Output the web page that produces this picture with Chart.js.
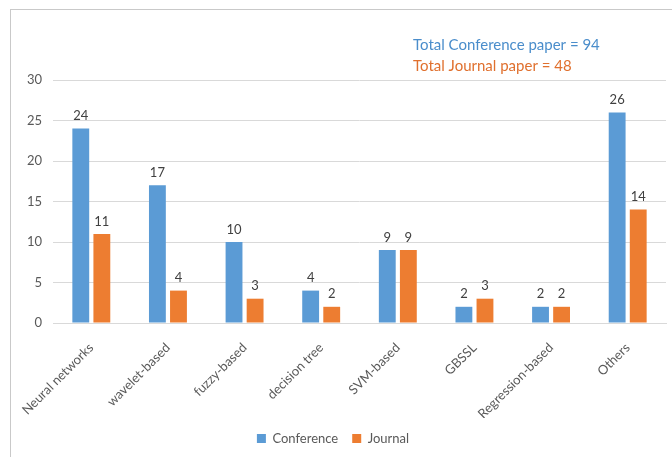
<!DOCTYPE html>
<html>
<head>
<meta charset="utf-8">
<script src="https://cdn.jsdelivr.net/npm/chart.js@4.4.0/dist/chart.umd.min.js"></script>
<style>
  html, body { margin: 0; padding: 0; background: #fff; }
  #wrap { position: relative; width: 672px; height: 457px; }
  #frame { position: absolute; left: 10px; top: 9px; right: 0; bottom: 0;
           border-left: 1px solid #c9c9c9; border-top: 1px solid #c9c9c9; pointer-events: none; }
  canvas { position: absolute; left: 0; top: 0; }
</style>
</head>
<body>
<div id="wrap">
  <canvas id="c" width="672" height="457"></canvas>
  <div id="frame"></div>
</div>
<script>
const categories = ["Neural networks", "wavelet-based", "fuzzy-based", "decision tree", "SVM-based", "GBSSL", "Regression-based", "Others"];
const conference = [24, 17, 10, 4, 9, 2, 2, 26];
const journal = [11, 4, 3, 2, 9, 3, 2, 14];
const yTicks = [0, 5, 10, 15, 20, 25, 30];
const noteLines = ["Total Conference paper = 94", "Total Journal paper = 48"];

const FONT = "Lato, 'Open Sans', sans-serif";

const valueLabels = {
  id: 'valueLabels',
  afterDatasetsDraw(chart) {
    const ctx = chart.ctx;
    ctx.save();
    ctx.font = "13px " + FONT;
    ctx.fillStyle = "#404040";
    ctx.textAlign = "center";
    ctx.textBaseline = "bottom";
    chart.data.datasets.forEach((ds, i) => {
      chart.getDatasetMeta(i).data.forEach((bar, j) => {
        ctx.fillText(String(ds.data[j]), bar.x, bar.y - 6);
      });
    });
    ctx.restore();
  }
};

const note = {
  id: 'note',
  afterDraw(chart) {
    const ctx = chart.ctx;
    ctx.save();
    ctx.font = "15px " + FONT;
    ctx.textAlign = "left";
    ctx.textBaseline = "middle";
    ctx.fillStyle = "#4A8DCB";
    ctx.fillText(noteLines[0], 413, 45);
    ctx.fillStyle = "#E0702E";
    ctx.fillText(noteLines[1], 413, 66);
    ctx.restore();
  }
};

new Chart(document.getElementById('c'), {
  type: 'bar',
  data: {
    labels: categories,
    datasets: [
      { label: "Conference", data: conference, backgroundColor: "#5B9BD5",
        categoryPercentage: 0.55, barPercentage: 0.8 },
      { label: "Journal", data: journal, backgroundColor: "#ED7D31",
        categoryPercentage: 0.55, barPercentage: 0.8 }
    ]
  },
  options: {
    responsive: false,
    animation: false,
    layout: { padding: { left: 0, right: 6, top: 80, bottom: 2 } },
    plugins: {
      legend: {
        position: 'bottom',
        labels: { boxWidth: 9, boxHeight: 9, padding: 14, color: "#595959",
                  font: { family: FONT, size: 13 } }
      },
      tooltip: { enabled: false }
    },
    scales: {
      y: {
        min: 0, max: 30,
        afterBuildTicks(scale) { scale.ticks = yTicks.map(v => ({ value: v })); },
        afterFit(scale) { scale.width = 53; },
        border: { display: false },
        grid: { color: "#d9d9d9", drawTicks: false },
        ticks: { padding: 11, color: "#595959", font: { family: FONT, size: 13 } }
      },
      x: {
        afterFit(scale) { scale.height = 95; },
        border: { display: true, color: "#d9d9d9" },
        grid: { display: false, drawTicks: false },
        ticks: { minRotation: 45, maxRotation: 45, padding: 17, color: "#595959",
                 font: { family: FONT, size: 13 } }
      }
    }
  },
  plugins: [valueLabels, note]
});
</script>
</body>
</html>
